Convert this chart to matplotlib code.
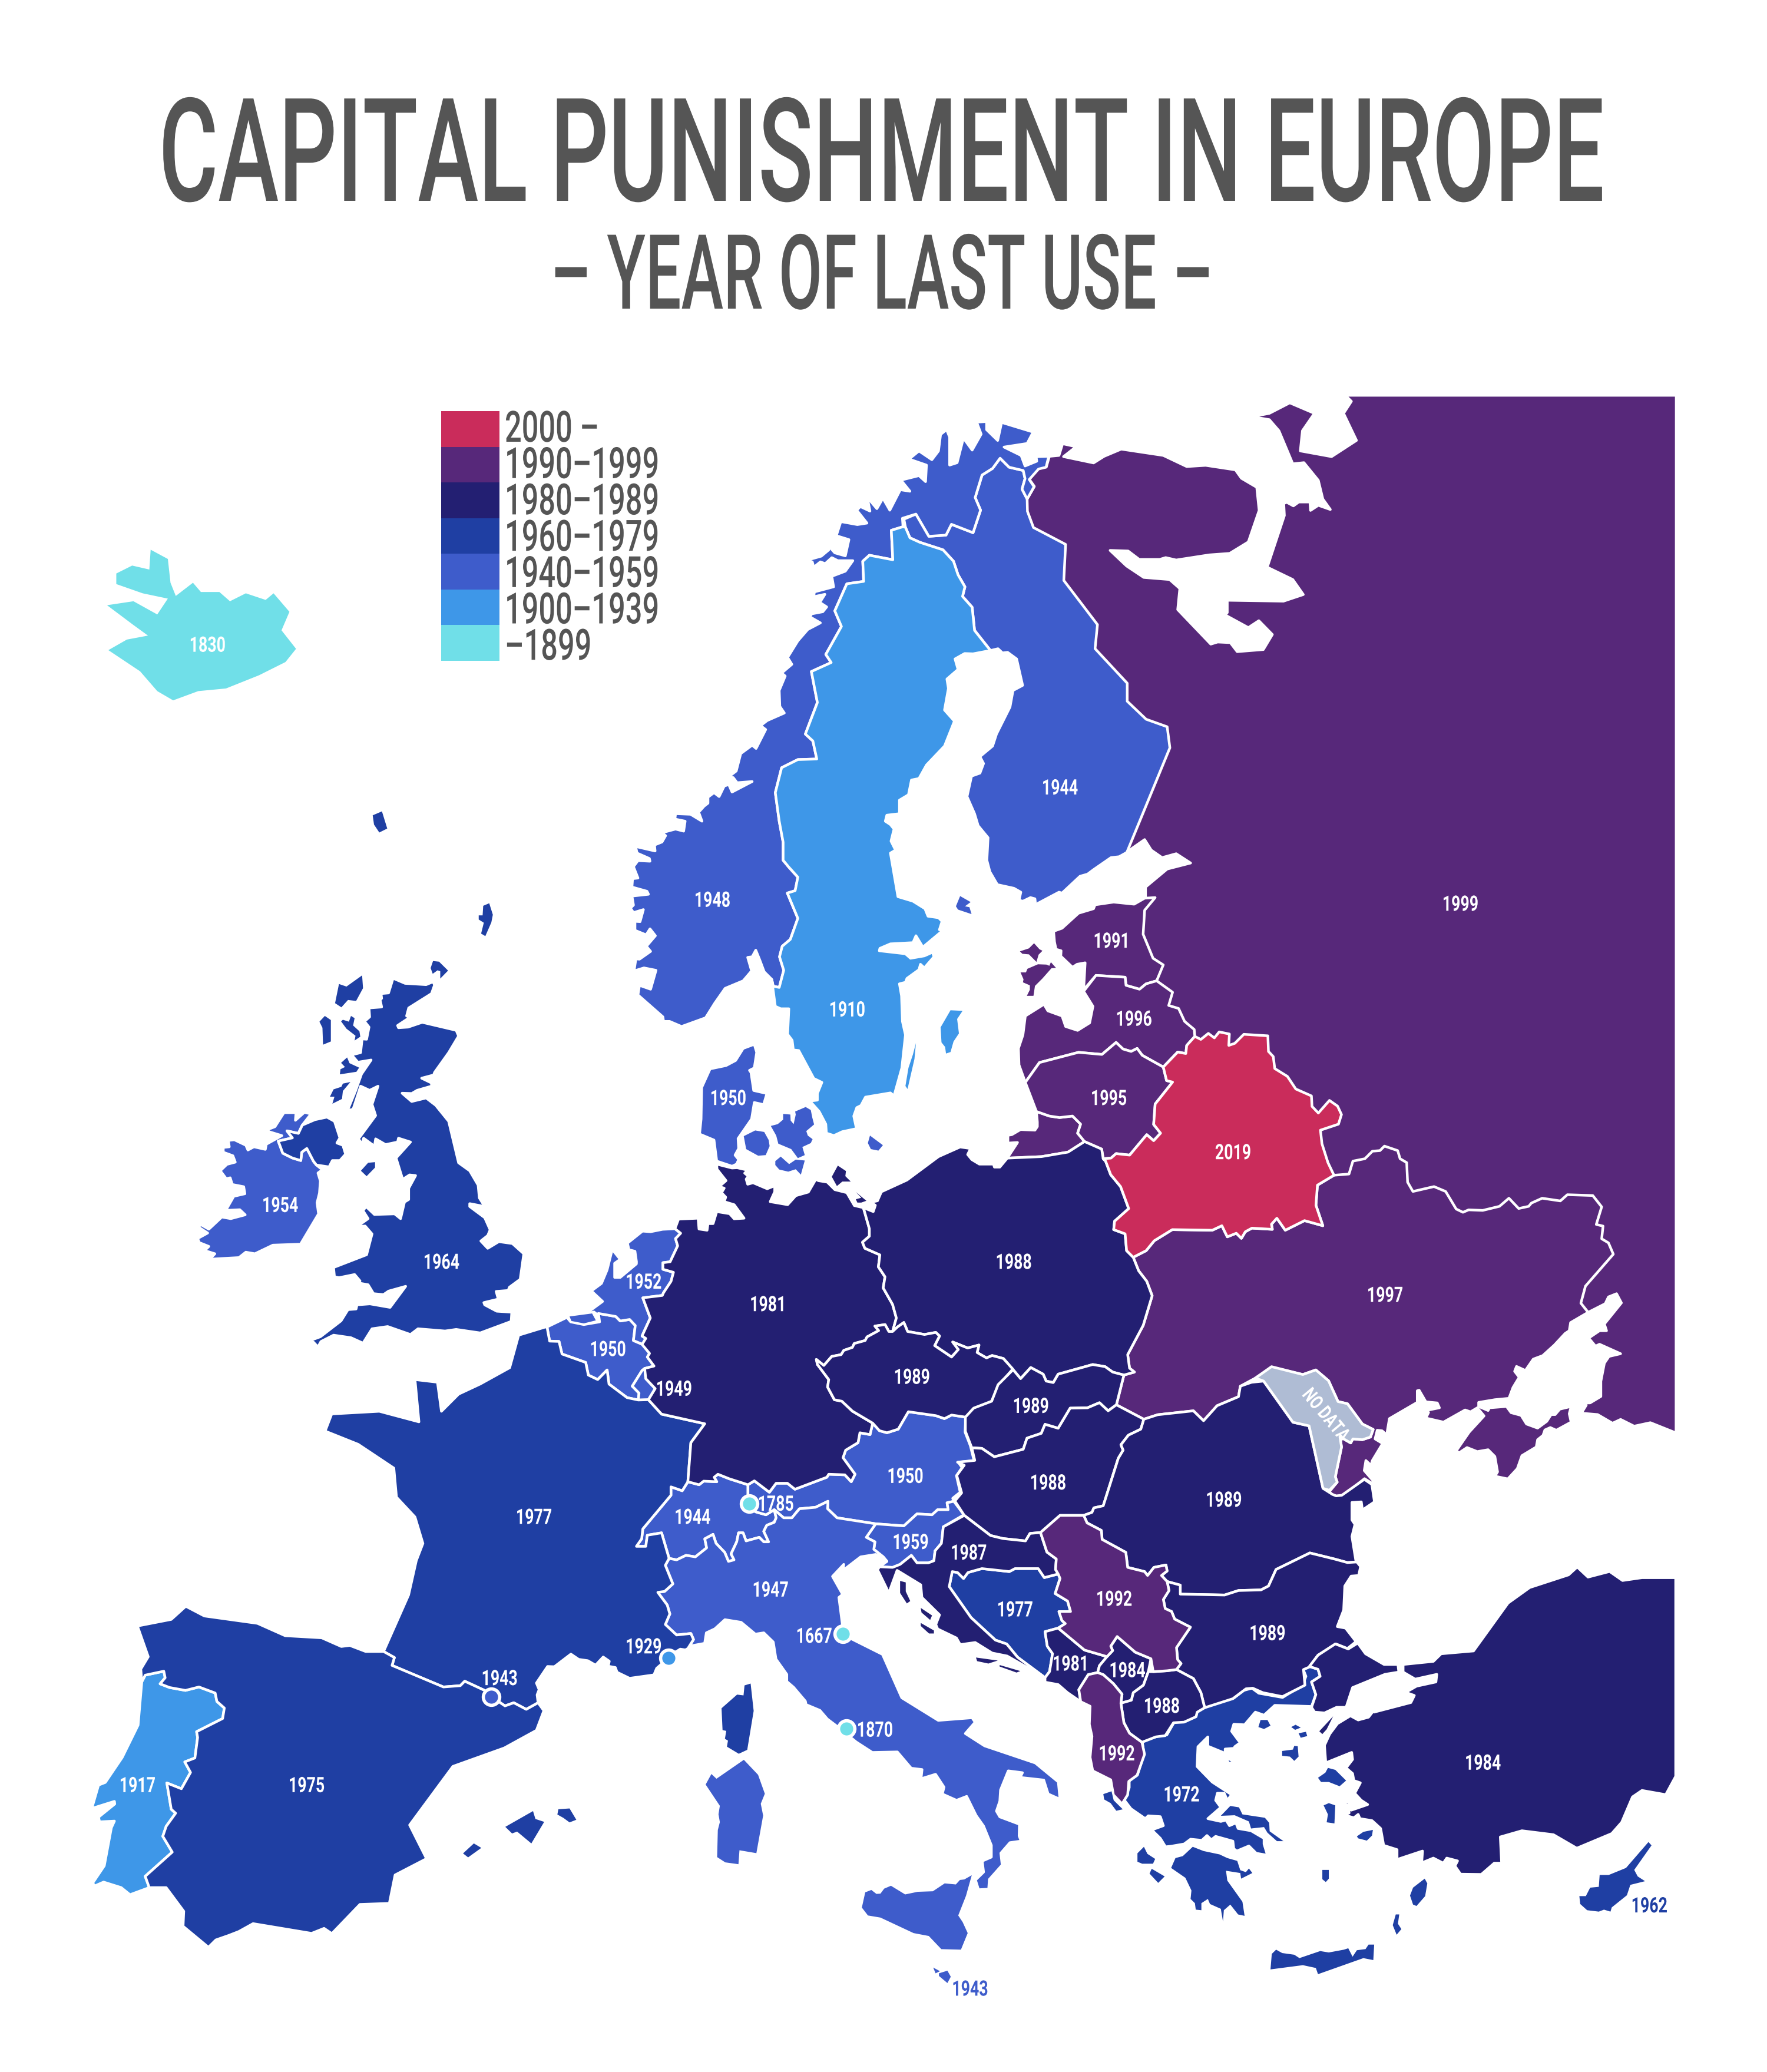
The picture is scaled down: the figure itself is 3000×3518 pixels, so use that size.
import matplotlib
matplotlib.use("Agg")
import matplotlib.pyplot as plt
from matplotlib.patheffects import AbstractPathEffect
from matplotlib.transforms import Affine2D, Bbox

W, H = 3000, 3518
FONT = ["Roboto", "Liberation Sans", "DejaVu Sans"]
GREY = "#555555"

C2000 = "#ca2c5b"; C1990 = "#57287a"; C1980 = "#231f72"; C1960 = "#1f3fa3"
C1940 = "#3e5ccb"; C1900 = "#3e97e8"; C1899 = "#70dfe8"; CNONE = "#afbcd4"

# outlines in crops of it: each helper maps one crop to the sheet
def frame(ox, oy, sx, sy):
    return lambda pts: [(ox + x / sx, oy + y / sy) for x, y in pts]
D = frame(0, 0, 1337 / W, 1568 / H)
Z1 = frame(900, 2100, 1.568, 1.96)
Z2 = frame(1500, 2300, 1.568, 1.96)
Z3 = frame(1650, 660, 1.96, 1.96)
Z4 = frame(1050, 680, 1.96, 1.96)
Z5 = frame(1050, 1400, 1.96, 1.96)
Z6 = frame(1650, 1400, 1.96, 1.96)
Z7 = frame(300, 1500, 1.96, 1.845)
Z8 = frame(130, 2650, 1.742, 2.24)
Z9 = frame(2150, 2000, 2.178, 2.178)
Z10 = frame(1750, 2650, 1.3635, 2.09)
Z11 = frame(1000, 2750, 1.742, 2.24)

RUSSIA = (Z3([(258,225),(290,222),(302,183),(347,193),(305,226),(405,247),(440,225),(497,201),(637,222),(715,259),(778,255),(877,270),(897,298),(948,328),(956,405),(920,510),(858,548),(790,553),(680,570),(645,562),(625,568),(557,568),(520,540),(460,538),(515,590),(572,628),(658,635),(692,665),(685,735),(795,850),(818,843),(860,845),(883,875),(970,868),(1000,818),(955,772),(920,795),(843,753),(850,745),(850,704),(1037,707),(1103,685),(1068,635),(983,594),(1040,422),(1038,382),(1048,378),(1070,390),(1088,377),(1125,377),(1127,405),(1153,388),(1193,402),(1168,367),(1153,305),(1105,246),(1068,250),(1022,140),(990,103),(932,93),(990,82),(1058,47),(1140,82),(1100,140),(1093,207),(1197,226),(1280,172),(1237,82),(1263,42),(1243,22),(2344,22)])
  + Z9([(1515,943),(1420,905),(1360,918),(1310,893),(1280,907),(1225,875),(1165,870),(1183,840),(1165,832),(1197,832),(1237,808),(1237,752),(1250,685),(1267,660),(1310,650),(1232,615),(1217,622),(1192,592),(1232,565),(1258,565),(1250,540),(1313,462),(1295,428),(1265,440),(1253,465),(1190,497),(600,500)])
  + Z6([(800,1000),(500,700),(500,400),(575,285),(578,240),(578,208),(650,148),(728,128),(680,97),(633,110),(597,85),(575,50),(532,80),(517,92)])
  + Z3([(400,1200),(100,500),(185,365),(208,325),(190,300),(222,265),(248,260)]))

FINLAND = (Z6([(517,92),(490,107),(463,110),(405,150),(385,165),(360,172),(300,228),(290,225),(220,262),(213,275),(210,247),(195,243),(170,255),(157,252),(163,225),(140,212),(85,200),(60,157)])
  + Z4([(1226,1530),(1230,1455),(1197,1415),(1185,1375),(1160,1318),(1175,1250),(1203,1240),(1215,1208),(1203,1185),(1245,1150),(1258,1110),(1303,1020),(1313,965),(1345,948),(1325,860),(1295,838),(1278,840),(1263,826),(1238,832),(1185,765),(1177,688),(1145,652),(1153,620),(1130,580),(1115,535),(1080,497),(1003,472),(970,457),(955,422),(950,395),(990,378),(1033,452),(1090,448),(1108,412),(1180,440),(1205,365),(1187,323),(1210,248),(1245,226),(1270,192),(1300,222),(1347,233),(1353,260),(1343,295),(1360,328)])
  + Z3([(185,408),(205,462),(312,518),(306,638),(418,785),(410,865),(517,980),(517,1040),(580,1100),(650,1125),(659,1195),(517,1540)]))

NORWAY = (Z5([(510,515),(485,490),(470,450),(457,418),(445,440),(430,442),(443,487),(415,520),(355,545),(320,595),(290,643),(210,672),(170,655),(150,655),(148,640),(65,567),(70,535),(107,548),(125,485),(85,477),(52,487),(58,447),(70,448),(107,422),(93,405),(123,370),(105,347),(92,367),(55,352),(55,322),(72,323),(83,283),(50,293),(40,278),(50,268),(45,238),(100,232),(95,222),(45,208),(47,180),(65,178),(50,140),(65,120),(105,122),(103,113),(62,95),(57,73),(122,88),(120,68),(145,58),(157,37),(145,27),(190,15),(217,22)])
  + Z4([(222,1400),(188,1393),(190,1375),(240,1377),(278,1400),(267,1370),(285,1350),(298,1340),(298,1320),(318,1305),(335,1318),(352,1283),(367,1278),(378,1303),(445,1268),(395,1272),(382,1255),(367,1252),(392,1233),(407,1175),(445,1147),(458,1158),(490,1095),(473,1082),(495,1065),(552,1040),(537,1018),(535,965),(555,917),(543,907),(577,878),(563,855),(597,800),(630,762),(672,740),(637,720),(643,710),(680,703),(693,687),(670,672),(687,645),(650,653),(652,637),(716,620),(710,585),(755,568),(780,533),(730,533),(710,523),(688,543),(672,537),(650,555),(645,537),(625,532),(675,518),(700,497),(683,487),(705,490),(720,507),(755,517),(767,463),(725,450),(740,403),(795,413),(827,408),(793,365),(805,353),(837,368),(828,322),(860,360),(880,325),(903,365),(938,297),(970,302),(940,265),(1000,250),(1022,270),(1025,215),(967,195),(1000,168),(1043,197),(1065,168),(1072,113),(1092,97),(1102,122),(1102,215),(1127,207),(1148,125),(1177,165),(1207,112),(1192,72),(1225,70),(1225,97),(1262,133),(1275,73),(1380,105),(1360,143),(1283,155),(1340,183),(1353,218),(1392,202),(1390,187),(1422,186),(1432,185),(1423,222),(1398,228),(1367,263),(1383,287),(1360,328),(1343,295),(1353,260),(1347,233),(1300,222),(1270,192),(1245,226),(1210,248),(1187,323),(1205,365),(1180,440),(1108,412),(1090,448),(1033,452),(990,378),(945,392),(947,420),(908,432),(913,530),(835,515),(813,535),(816,602),(760,610),(720,700),(742,752),(690,845),(708,872),(642,902),(662,1005),(622,1110),(647,1133),(660,1193),(597,1195),(543,1222),(522,1305),(535,1400),(548,1470),(548,1530),(567,1553)])
  + Z5([(597,175),(588,220),(562,228),(597,312),(572,382),(545,405),(536,440),(550,485),(535,542),(515,538)]))

SWEDEN = (Z5([(510,515),(522,605),(540,613),(567,613),(563,698),(578,718),(582,750),(600,752),(650,845),(677,858),(662,895),(662,917),(637,920),(668,955),(690,997),(692,1027),(717,1035),(745,1022),(792,1012),(783,970),(793,942),(807,935),(822,907),(905,893),(917,903),(943,810),(955,700),(945,655),(942,570),(935,530),(955,525),(960,512),(1000,483),(1005,465),(1018,477),(1050,440),(1045,425),(1018,437),(972,445),(955,430),(868,420),(870,412),(905,397),(980,393),(990,370),(1013,408),(1080,352),(1068,350),(1077,322),(1065,310),(1030,305),(1020,280),(980,255),(930,240),(905,95),(922,85),(907,55),(917,15),(905,0)])
  + Z4([(888,1400),(893,1380),(935,1375),(935,1330),(965,1312),(975,1263),(1000,1258),(1025,1213),(1085,1150),(1118,1067),(1085,1030),(1098,958),(1093,927),(1130,895),(1120,860),(1152,842),(1180,843),(1238,832),(1185,765),(1177,688),(1145,652),(1153,620),(1130,580),(1115,535),(1080,497),(1003,472),(970,457),(955,422),(947,420),(908,432),(913,530),(835,515),(813,535),(816,602),(760,610),(720,700),(742,752),(690,845),(708,872),(642,902),(662,1005),(622,1110),(647,1133),(660,1193),(597,1195),(543,1222),(522,1305),(535,1400),(548,1470),(548,1530),(567,1553)])
  + Z5([(597,175),(588,220),(562,228),(597,312),(572,382),(545,405),(536,440),(550,485),(535,542),(515,538)]))
GOTLAND = Z5([(1105,618),(1145,620),(1127,647),(1133,695),(1115,722),(1105,757),(1090,762),(1087,740),(1075,725),(1072,675)])
OLAND = Z5([(990,727),(985,780),(962,880),(955,870),(965,810),(980,765)])
ALAND = Z5([(1137,238),(1172,258),(1153,272),(1168,275),(1175,298),(1130,283),(1123,272)])

JUTLAND = Z5([(455,730),(415,745),(390,785),(358,802),(305,813),(277,875),(275,980),(270,1030),(318,1050),(327,1120),(378,1137),(393,1130),(400,1115),(388,1100),(400,1078),(398,1045),(443,980),(452,925),(483,932),(494,895),(450,885),(441,825),(436,818),(452,810),(460,758),(453,735)])
FUNEN = Z5([(417,1037),(455,1018),(485,1023),(500,1050),(503,1070),(490,1100),(465,1102),(425,1080)])
ZEALAND = Z5([(507,1003),(530,997),(548,982),(548,963),(572,965),(573,985),(583,997),(590,965),(588,955),(623,940),(640,950),(645,975),(651,998),(625,1020),(630,1035),(646,1047),(640,1060),(612,1073),(620,1100),(597,1110),(575,1080),(532,1062),(525,1035)])
LOLLAND = Z5([(522,1120),(540,1105),(568,1130),(590,1115),(620,1118),(607,1165),(590,1147),(565,1155),(535,1148),(522,1133)])
BORNHOLM = Z5([(837,1035),(880,1067),(865,1085),(840,1080),(830,1060)])

ESTONIA = Z6([(575,245),(540,265),(472,258),(410,267),(405,280),(355,295),(300,345),(272,355),(275,390),(280,415),(297,420),(296,438),(335,475),(350,465),(377,460),(372,550),(413,502),(510,508),(513,535),(558,548),(580,530),(615,520),(637,467),(603,445),(570,365),(575,285),(610,243)])
SAAREMAA = Z6([(160,422),(190,412),(207,395),(225,415),(235,420),(222,433),(215,457),(190,432),(168,430)])
HIIUMAA = Z6([(162,492),(180,492),(185,480),(220,465),(248,466),(258,470),(263,458),(280,477),(265,478),(235,512),(210,537),(205,570),(183,570),(193,550),(193,535),(170,525),(172,515)])
LATVIA = Z6([(372,555),(403,605),(392,660),(352,685),(312,672),(300,637),(253,620),(240,598),(178,637),(170,700),(155,745),(157,800),(178,858),(225,792),(355,758),(433,765),(480,725),(503,747),(530,755),(550,745),(567,768),(637,807),(685,757),(712,762),(715,735),(742,705),(740,682),(708,655),(688,612),(655,602),(668,558),(615,520),(580,530),(558,548),(513,535),(510,508),(413,502)])
LITHUANIA = Z6([(178,858),(225,792),(355,758),(433,765),(480,725),(503,747),(530,755),(550,745),(567,768),(637,807),(648,852),(668,857),(610,930),(605,998),(628,1027),(605,1052),(582,1032),(525,1100),(480,1095),(463,1110),(437,1112),(432,1080),(375,1055),(352,1027),(362,997),(335,970),(292,975),(258,970),(215,955)])
KALININGRAD = Z6([(215,955),(218,990),(218,1005),(210,1017),(162,1015),(133,1032),(120,1034),(120,1060),(152,1058),(118,1110),(232,1105),(320,1090),(375,1055),(352,1027),(362,997),(335,970),(292,975),(258,970)])
BELARUS = Z6([(437,1112),(463,1110),(480,1095),(525,1100),(582,1032),(605,1052),(628,1027),(605,998),(610,930),(668,857),(648,852),(637,807),(685,757),(712,762),(715,735),(742,705),(762,715),(787,695),(807,710),(823,690),(857,697),(855,735),(875,728),(905,698),(985,703),(987,755),(1003,772),(1008,812),(1050,838),(1078,880),(1130,903),(1132,938),(1153,960),(1190,918),(1217,937),(1230,965),(1220,997),(1160,1017),(1165,1062),(1185,1125),(1205,1167),(1150,1200),(1145,1267),(1168,1335),(1107,1318),(1043,1350),(1015,1310),(997,1330),(1000,1347),(932,1343),(910,1355),(897,1377),(880,1360),(850,1372),(832,1335),(800,1350),(667,1348),(607,1385),(580,1418),(537,1440),(515,1418),(510,1362),(472,1348),(475,1320),(522,1278),(495,1205),(462,1165),(445,1120)])

UKRAINE = (Z6([(537,1440),(580,1418),(607,1385),(667,1348),(800,1350),(832,1335),(850,1372),(880,1360),(897,1377),(910,1355),(932,1343),(1000,1347),(997,1330),(1015,1310),(1043,1350),(1107,1318),(1168,1335),(1145,1267),(1150,1200),(1205,1167),(1255,1163),(1268,1120),(1308,1112),(1333,1087),(1358,1085),(1373,1070),(1417,1085),(1425,1112),(1447,1125),(1450,1190)])
  + Z9([(542,50),(620,32),(663,50),(702,115),(727,127),(748,118),(800,120),(862,105),(897,75),(933,113),(970,105),(980,93),(1020,75),(1087,85),(1113,62),(1207,65),(1240,107),(1220,172),(1245,178),(1240,225),(1265,240),(1283,282),(1180,400),(1163,463),(1190,497),(1125,535),(1120,565),(1105,575),(1065,618),(1022,657),(987,670),(958,712),(925,697),(918,715),(935,737),(912,775),(897,815),(845,820),(785,830),(785,845),(820,860),(825,850),(888,845),(905,868),(942,878),(962,910),(1003,925),(1037,900),(1053,875),(1068,875),(1085,855),(1127,845),(1120,872),(1127,903),(1072,933),(1050,923),(1030,932),(1023,952),(1003,968),(998,995),(945,1027),(928,1075),(893,1113),(845,1103),(855,1087),(845,1030),(820,1005),(780,1012),(742,997),(712,1017),(703,1008),(750,940),(805,880),(780,850),(755,865),(735,858),(655,903),(590,888),(600,867),(565,865),(640,850),(632,832),(590,828),(565,785),(558,787),(558,830),(455,890),(445,950),(428,935),(410,933),(402,965),(430,982),(392,1045),(387,1063),(368,1045),(362,1082),(395,1120),(392,1130),(363,1112),(280,1178),(250,1180),(233,1160),(262,1125),(255,1105),(278,995),(272,957),(312,980),(320,965),(355,968),(385,958),(395,930),(355,910),(300,835),(265,827),(230,750),(183,710),(135,727),(20,700)])
  + Z2([(990,78),(950,105),(945,140),(888,170),(852,220),(825,187),(730,200),(693,215),(620,167),(640,68),(668,58),(655,45),(650,0)])
  + D([(865,1003)]) + Z6([(600,1568),(582,1520),(555,1485)]))
MOLDOVA = (Z2([(990,78),(1033,40)])
  + Z9([(135,727),(183,710),(230,750),(265,827),(300,835),(355,910),(395,930),(385,958),(355,968),(320,965),(312,980),(272,957),(278,995),(255,1105),(262,1125),(233,1155)])
  + Z2([(1170,445),(1133,237),(1090,225),(1012,88)]))

ROMANIA = Z2([(693,215),(730,200),(825,187),(852,220),(888,170),(945,140),(950,105),(980,92),(1012,88),(1090,225),(1133,237),(1170,445),(1195,465),(1205,470),(1220,468),(1280,415),(1300,432),(1307,490),(1275,517),(1272,490),(1247,492),(1247,550),(1255,565),(1247,605),(1258,690),(1235,692),(1200,680),(1135,660),(1045,715),(1025,770),(1005,783),(945,785),(908,800),(790,797),(790,767),(755,755),(740,735),(755,720),(752,700),(720,708),(703,735),(695,722),(650,708),(645,658),(582,615),(580,585),(542,560),(533,535),(555,525),(560,510),(585,503),(625,345),(638,318),(632,300),(652,268),(685,248)])
HUNGARY = Z2([(620,167),(693,215),(685,248),(652,268),(632,300),(638,318),(625,345),(585,503),(560,510),(555,525),(533,535),(470,535),(440,568),(418,592),(390,595),(378,620),(318,612),(285,602),(215,535),(190,487),(208,460),(195,402),(215,368),(197,358),(243,352),(235,310),(262,312),(295,340),(372,315),(382,278),(420,262),(430,232),(465,245),(497,178),(543,177),(575,160),(598,187)])
SLOVAKIA = Z2([(345,50),(365,80),(392,43),(425,65),(433,88),(452,93),(465,65),(557,33),(590,40),(610,58),(640,68),(620,167),(598,187),(575,160),(543,177),(497,178),(465,245),(430,232),(420,262),(382,278),(372,315),(295,340),(262,312),(235,310),(218,255),(218,208),(240,178),(288,155),(305,100)])
CZECHIA = Z1([(965,315),(978,300),(995,285),(1005,315),(1050,325),(1080,318),(1090,330),(1077,362),(1122,400),(1140,375),(1125,350),(1165,370),(1195,360),(1190,385),(1215,403),(1230,395),(1260,405),(1285,440),(1250,490),(1228,548),(1185,570),(1160,600),(1122,593),(1103,605),(1080,595),(1007,582),(980,640),(950,652),(930,645),(912,620),(858,580),(830,547),(810,542),(792,500),(795,475),(765,425),(762,408),(782,428),(803,398),(828,392),(835,378),(858,368),(863,355),(892,345),(897,333),(928,312),(918,297),(945,292),(955,315)])

GERMANY = (Z5([(815,1275),(785,1268),(760,1225),(720,1215),(695,1190),(665,1185),(657,1180),(632,1223),(590,1235),(563,1265),(505,1255),(520,1222),(520,1202),(495,1212),(448,1192),(430,1197),(425,1180),(432,1170),(420,1160),(430,1150),(395,1142),(378,1143),(327,1130),(328,1147),(358,1185),(335,1205),(352,1210),(343,1225),(357,1240),(352,1255),(385,1265),(418,1310),(385,1312),(370,1295),(327,1288),(315,1328),(298,1328),(295,1350),(268,1346),(265,1310),(200,1313),(188,1345),(207,1360),(190,1378),(197,1402),(172,1455),(148,1458),(148,1480),(183,1490),(175,1520),(150,1558)])
  + Z1([(352,195),(300,203),(320,270),(298,330),(308,338),(298,358),(318,388),(312,400),(330,430),(305,438),(308,472),(333,505),(315,542),(350,590),(465,622),(428,685),(420,815),(450,825),(462,813),(497,815),(490,800),(500,790),(530,805),(580,825),(597,812),(637,850),(655,820),(685,820),(705,840),(790,800),(795,790),(838,792),(855,815),(865,790),(833,735),(840,710),(873,685),(878,652),(905,658),(912,620),(858,580),(830,547),(810,542),(792,500),(795,475),(765,425),(762,408),(782,428),(803,398),(828,392),(835,378),(858,368),(863,355),(892,345),(897,333),(928,312),(918,297),(945,292),(955,315),(965,315),(975,270),(965,225),(940,170)])
  + Z5([(887,1505),(865,1472),(870,1432),(820,1410),(812,1390),(835,1370),(835,1345)]))
RUGEN = Z5([(710,1172),(730,1135),(757,1153),(755,1170),(773,1188),(745,1188),(727,1203)])
USEDOM = Z5([(790,1223),(825,1252),(808,1258),(795,1258),(790,1247),(808,1242)])

POLAND = (Z5([(815,1275),(848,1288),(855,1267),(840,1257),(862,1252),(875,1222),(960,1183),(1065,1105),(1137,1073),(1172,1078),(1162,1098),(1176,1115)])
  + Z6([(25,1130),(72,1130),(75,1140),(93,1140),(118,1110),(232,1105),(320,1090),(375,1055),(432,1080),(437,1112),(445,1120),(462,1165),(495,1205),(522,1278),(475,1320),(472,1348),(510,1362),(515,1418),(537,1440),(555,1485),(582,1520),(600,1568)])
  + D([(865,1003)])
  + Z2([(650,0),(655,45),(668,58),(640,68),(610,58),(590,40),(557,33),(465,65),(452,93),(433,88),(425,65),(392,43),(365,80),(345,50)])
  + Z1([(1260,405),(1230,395),(1215,403),(1190,385),(1195,360),(1165,370),(1125,350),(1140,375),(1122,400),(1077,362),(1090,330),(1080,318),(1050,325),(1005,315),(995,285),(978,300),(965,315),(975,270),(965,225),(940,170)])
  + Z5([(887,1505),(865,1472),(870,1432),(820,1410),(812,1390),(835,1370),(835,1345)]))

NETHERLANDS = (Z5([(188,1345),(147,1347),(107,1355),(80,1353),(30,1393),(35,1415),(55,1420),(60,1455)])
  + Z1([(283,90),(240,135),(225,135),(225,88),(240,75),(222,47),(218,45),(205,110),(190,155),(163,180),(193,215),(157,248),(118,238),(155,255),(170,250),(178,258),(182,255),(228,265),(240,280),(265,275),(280,295),(275,345),(300,358),(308,338),(298,330),(320,270),(300,203),(352,195)])
  + Z5([(150,1558),(175,1520),(183,1490),(148,1480),(148,1458),(172,1455),(197,1402),(190,1378),(207,1360)]))
ZEELAND = Z1([(105,265),(165,255),(175,278),(143,288),(110,280)])
BELGIUM = Z1([(45,300),(98,268),(108,283),(143,292),(185,283),(182,255),(228,265),(240,280),(265,275),(280,295),(275,345),(303,360),(318,388),(312,400),(330,430),(305,438),(298,445),(272,497),(290,520),(288,543),(258,535),(210,490),(205,443),(180,475),(155,460),(148,418),(85,390),(77,348),(52,347)])
LUXEMBOURG = Z1([(298,445),(272,497),(290,520),(288,543),(315,542),(333,505),(308,472),(305,438)])

FRANCE = (Z7([(1225,1390),(1138,1415),(1108,1517),(1010,1568)])
  + D([(347,1055),(334,1068),(331,1046),(314,1044),(317,1076),(287,1068),(251,1070),(246,1083),(271,1093),(298,1111),(300,1133),(314,1148),(320,1168),(315,1181)])
  + Z8([(982,130),(908,345),(940,368),(933,398),(1085,480),(1135,475),(1148,458),(1205,492),(1227,517),(1267,552),(1293,540),(1330,565),(1365,540),(1362,510),(1368,490),(1360,465),(1393,402),(1413,403),(1462,355),(1485,375),(1512,380),(1535,397)])
  + Z11([(42,142),(60,158),(57,177),(78,182),(83,200),(120,223),(192,210),(200,185),(218,165),(225,140),(260,120),(270,112),(285,115)])
  + Z1([(420,1370),(435,1340),(428,1320),(390,1325),(360,1290),(372,1255),(365,1225),(340,1183),(358,1180),(380,1155),(360,1093),(370,1070),(350,985),(312,993),(308,1030),(283,1030),(297,1005),(300,972),(375,860),(375,832),(405,845),(420,815),(428,685),(465,622),(350,590),(315,542),(288,543),(258,535),(210,490),(205,443),(180,475),(155,460),(148,418),(85,390),(77,348),(52,347),(45,300)]))
CORSICA = Z11([(478,243),(487,347),(468,495),(443,510),(408,483),(411,460),(402,453),(406,423),(395,420),(392,337),(438,285),(457,288),(460,250)])

SPAIN = Z8([(908,345),(855,345),(808,322),(783,326),(725,293),(617,285),(535,238),(378,210),(323,173),(280,223),(180,248),(212,365),(190,412),(193,460),(203,435),(258,420),(262,445),(247,468),(275,482),(322,493),(362,480),(410,503),(415,535),(437,560),(432,600),(355,650),(358,672),(350,750),(320,765),(337,805),(310,867),(267,845),(280,945),(293,960),(265,1010),(255,1048),(283,1108),(203,1200),(215,1243),(265,1243),(317,1333),(315,1390),(390,1470),(412,1442),(450,1425),(480,1410),(522,1380),(695,1417),(732,1398),(755,1418),(838,1307),(925,1303),(942,1195),(1035,1133),(985,1005),(1113,782),(1265,712),(1360,645),(1382,570),(1365,540),(1330,565),(1293,540),(1267,552),(1227,517),(1205,492),(1148,458),(1135,475),(1085,480),(933,398),(940,368)])
PORTUGAL = Z8([(193,460),(203,435),(258,420),(262,445),(247,468),(275,482),(322,493),(362,480),(410,503),(415,535),(437,560),(432,600),(355,650),(358,672),(350,750),(320,765),(337,805),(310,867),(267,845),(280,945),(293,960),(265,1010),(255,1048),(283,1108),(203,1200),(215,1243),(158,1270),(132,1243),(80,1222),(53,1237),(48,1225),(82,1160),(103,1015),(112,990),(68,993),(65,975),(113,925),(112,915),(45,942),(65,853),(85,843),(135,748),(182,625)])
MALLORCA = Z8([(1268,1012),(1350,952),(1357,982),(1383,993),(1345,1075),(1303,1030),(1288,1037)])
MENORCA = Z8([(1425,945),(1458,942),(1478,985),(1458,995),(1440,978),(1422,965)])
IBIZA = Z8([(1143,1113),(1175,1075),(1197,1092),(1158,1128)])

SWITZERLAND = Z1([(420,815),(450,825),(462,813),(497,815),(490,800),(500,790),(530,805),(580,825),(580,858),(600,915),(628,925),(650,908),(655,935),(650,950),(630,960),(622,980),(635,1015),(622,1015),(610,1000),(575,1012),(567,985),(555,985),(550,1015),(535,1055),(543,1075),(528,1080),(518,1050),(495,1020),(487,990),(465,1005),(470,1035),(440,1065),(415,1060),(390,1075),(370,1070),(350,985),(312,993),(308,1030),(283,1030),(297,1005),(300,972),(375,860),(375,832),(405,845)])
AUSTRIA = Z1([(650,908),(675,935),(697,935),(717,905),(760,900),(793,880),(792,905),(817,935),(920,955),(995,962),(1030,922),(1070,925),(1085,908),(1113,908),(1110,885),(1128,880),(1125,870),(1145,850),(1135,795),(1150,768),(1140,750),(1182,745),(1172,695),(1158,650),(1160,600),(1122,593),(1103,605),(1080,595),(1007,582),(980,640),(950,652),(930,645),(912,620),(905,658),(878,652),(873,685),(840,710),(833,735),(865,790),(855,815),(838,792),(795,790),(790,800),(705,840),(685,820),(655,820),(637,850),(597,812),(580,825),(580,858),(600,915),(628,925)])
SLOVENIA = Z1([(920,955),(995,962),(1030,922),(1070,925),(1085,908),(1113,908),(1110,885),(1128,880),(1155,925),(1100,965),(1095,1020),(1078,1045),(1075,1078),(1060,1085),(1030,1085),(1015,1060),(985,1090),(965,1100),(930,1098),(950,1080),(940,1065),(915,1040),(918,1015),(895,1000)])

ITALY = (Z1([(370,1070),(390,1075),(415,1060),(440,1065),(470,1035),(465,1005),(487,990),(495,1020),(518,1050),(528,1080),(543,1075),(535,1055),(550,1015),(555,985),(567,985),(575,1012),(610,1000),(622,1015),(635,1015),(622,980),(630,960),(650,950),(655,935),(650,908),(675,935),(697,935),(717,905),(760,900),(793,880),(792,905),(817,935),(920,955),(895,1000),(918,1015),(915,1040),(940,1065),(950,1080),(920,1057),(880,1065),(833,1110),(835,1090),(805,1130),(832,1190),(822,1200),(835,1325)])
  + Z11([(868,132),(925,297),(1033,383),(1133,373),(1142,390),(1113,433),(1170,480),(1320,545),(1388,617),(1393,683),(1358,663),(1345,610),(1275,600),(1282,582),(1240,575),(1217,648),(1215,690),(1205,728),(1215,750),(1273,778),(1272,822),(1278,842),(1245,848),(1218,888),(1222,933),(1184,988),(1182,1025),(1152,1027),(1143,990),(1167,960),(1163,918),(1190,903),(1190,858),(1167,785),(1145,745),(1117,672),(1087,687),(1045,663),(1050,637),(1025,588),(982,605),(985,570),(953,565),(912,503),(838,505),(790,465),(740,412),(705,378),(683,345),(642,323),(640,310),(605,257),(585,235),(585,208),(553,150),(545,85),(517,50),(492,55),(450,10),(402,0),(372,35),(347,50),(342,90),(300,100)])
  + Z1([(420,1370),(435,1340),(428,1320),(390,1325),(360,1290),(372,1255),(365,1225),(340,1183),(358,1180),(380,1155),(360,1093)]))
SARDINIA = Z11([(458,533),(500,590),(520,662),(508,700),(515,745),(495,888),(445,877),(442,930),(403,923),(379,903),(381,800),(387,770),(383,740),(387,708),(345,627),(362,587),(377,605)])
SICILY = Z11([(817,1037),(835,1028),(850,1043),(862,1042),(873,1023),(893,1012),(935,1045),(972,1035),(1017,1033),(1052,1003),(1085,1007),(1097,990),(1110,988),(1132,972),(1115,1050),(1092,1125),(1105,1150),(1120,1192),(1100,1255),(1042,1253),(1005,1203),(960,1192),(862,1133),(825,1125),(807,1095)])
MALTA_A = Z11([(1018,1323),(1038,1337),(1025,1345)])
MALTA_B = Z11([(1035,1345),(1060,1335),(1070,1358),(1060,1382),(1035,1355)])

CROATIA = (Z2([(215,535),(285,602),(318,612),(378,620),(390,595),(418,592),(435,657),(460,680),(458,715),(465,730),(428,742),(412,712),(350,712),(335,722),(262,712),(225,725),(213,745),(197,725),(183,722),(175,772),(233,875),(298,950),(328,963),(357,1007),(430,1075)])
  + Z1([(1270,1395),(1230,1385),(1185,1350),(1145,1357),(1135,1335),(1085,1305),(1080,1290),(1090,1258),(1043,1200),(1040,1158),(977,1110),(955,1185),(925,1108),(930,1098),(965,1100),(985,1090),(1015,1060),(1030,1085),(1060,1085),(1075,1078),(1078,1045),(1095,1020),(1100,965)]))
KRK = Z1([(985,1145),(1000,1150),(1000,1180),(1012,1212),(1003,1220),(985,1185)])
RAB = Z1([(1040,1235),(1070,1260),(1065,1275),(1042,1250)])
PAG = Z1([(1040,1285),(1075,1310),(1075,1320),(1062,1320),(1040,1295)])
BRAC = Z1([(1187,1400),(1245,1410),(1220,1420),(1190,1412)])
KORCULA = Z1([(1250,1425),(1305,1445),(1295,1450),(1250,1430)])
BOSNIA = Z2([(183,722),(197,725),(213,745),(225,725),(262,712),(335,722),(350,712),(412,712),(428,742),(465,730),(470,745),(457,795),(490,820),(498,855),(467,855),(475,885),(484,895),(465,910),(430,922),(436,970),(450,995),(442,1055),(430,1075),(357,1007),(328,963),(298,950),(233,875),(175,772)])
SERBIA = Z2([(418,592),(470,535),(533,535),(542,560),(580,585),(582,615),(645,658),(650,708),(695,722),(703,735),(720,708),(752,700),(755,720),(740,735),(755,755),(760,785),(745,815),(750,845),(767,855),(775,880),(817,907),(780,975),(783,1015),(792,1028),(780,1048),(755,1052),(718,1055),(712,1012),(670,990),(622,938),(605,970),(610,985),(595,1005),(535,983),(465,910),(484,895),(475,885),(467,855),(498,855),(490,820),(457,795),(470,745),(465,730),(458,715),(460,680),(435,657)])
KOSOVO = Z2([(622,938),(670,990),(712,1012),(705,1055),(692,1100),(665,1125),(660,1150),(632,1160),(635,1130),(612,1095),(585,1065),(570,1058),(575,1035),(595,1005),(610,985),(605,970)])
MONTENEGRO = Z2([(430,922),(465,910),(535,983),(595,1005),(575,1035),(570,1058),(545,1065),(520,1115),(525,1155),(490,1125),(465,1098),(430,1090),(430,1075),(442,1055),(450,995),(436,970)])
ALBANIA = Z2([(545,1065),(570,1058),(585,1065),(612,1095),(635,1130),(632,1160),(640,1225),(655,1260),(688,1290),(695,1330),(675,1400),(653,1420),(650,1465),(635,1495),(612,1465),(605,1415),(557,1385),(550,1340),(555,1270),(548,1230),(550,1170),(525,1155),(520,1115)])
MACEDONIA = Z2([(632,1160),(660,1150),(665,1125),(692,1100),(705,1055),(718,1055),(755,1052),(780,1048),(825,1078),(845,1125),(855,1175),(835,1190),(832,1205),(800,1223),(772,1225),(750,1268),(725,1272),(688,1290),(655,1260),(640,1225)])
BULGARIA = Z2([(755,755),(790,767),(790,797),(908,800),(945,785),(1005,783),(1025,770),(1045,715),(1135,660),(1200,680),(1235,692),(1260,690),(1270,705),(1265,735),(1245,737),(1228,770),(1225,850),(1208,905),(1230,910),(1258,955),(1235,978),(1205,963),(1157,1000),(1133,1040),(1118,1048),(1122,1100),(1062,1138),(1010,1125),(983,1110),(965,1112),(930,1145),(855,1175),(845,1125),(825,1078),(780,1048),(792,1028),(783,1015),(780,975),(817,907),(775,880),(767,855),(750,845),(745,815),(760,785)])

THRACE = Z10([(705,295),(735,313),(757,292),(775,330),(818,368),(850,368),(852,395),(820,403),(745,450),(730,520),(708,520),(680,540),(657,537),(650,520),(660,475),(650,430),(670,410),(665,385),(645,375),(665,335)])
GALLIPOLI = Z10([(668,605),(700,552),(685,598),(675,615)])
ANATOLIA = Z10([(862,368),(932,357),(950,330),(1025,320),(1105,150),(1155,95),(1245,50),(1265,22),(1290,58),(1340,38),(1370,70),(1415,60),(1493,60),(1493,765),(1470,830),(1415,815),(1393,838),(1368,928),(1345,968),(1264,1020),(1210,972),(1137,958),(1087,980),(1090,1073),(1073,1073),(1043,1113),(995,1112),(982,1083),(988,1065),(963,1055),(955,1073),(932,1055),(905,1072),(907,1030),(848,1060),(848,1025),(817,1010),(810,950),(790,922),(762,915),(758,900),(748,912),(725,902),(737,895),(735,870),(722,855),(735,855),(742,885),(780,865),(765,850),(750,825),(763,788),(748,780),(745,755),(730,735),(745,705),(743,680),(683,717),(680,655),(692,615),(710,578),(740,550),(758,565),(782,555),(792,535),(788,515),(795,537),(880,503),(888,478),(868,467),(893,445),(938,430),(940,403),(890,420),(862,395)])

GREECE = Z10([(258,640),(295,622),(315,618),(332,573),(358,570),(383,550),(385,530),(430,505),(470,487),(493,460),(512,452),(528,470),(583,485),(630,440),(637,410),(630,383),(645,375),(665,385),(670,410),(650,430),(660,475),(650,517),(565,513),(540,548),(520,537),(495,582),(470,580),(465,605),(482,640),(520,660),(490,640),(472,660),(500,695),(475,665),(450,668),(450,695),(475,717),(458,718),(445,680),(410,658),(410,625),(387,660),(385,730),(420,785),(465,830),(455,850),(448,825),(432,825),(428,850),(440,875),(410,915),(440,925),(452,920),(460,940),(475,930),(480,950),(510,958),(540,985),(540,1005),(548,1045),(522,1038),(505,1012),(477,1030),(470,1022),(468,995),(428,978),(418,990),(408,975),(396,992),(370,988),(355,1005),(325,1013),(312,1015),(300,985),(280,955),(307,940),(300,908),(272,905),(265,915),(232,880),(217,850),(228,805),(228,780),(247,760),(262,685)])
PELOPONNESE = Z10([(375,1015),(400,1030),(437,1042),(455,1055),(478,1065),(485,1098),(498,1105),(505,1092),(513,1108),(487,1128),(485,1108),(452,1100),(455,1135),(490,1210),(495,1260),(480,1255),(462,1220),(447,1240),(445,1280),(440,1235),(415,1218),(410,1200),(395,1215),(395,1240),(382,1238),(380,1215),(370,1200),(372,1170),(358,1125),(325,1090),(335,1055),(352,1048)])
EUBOEA = Z10([(440,905),(462,870),(482,875),(490,900),(542,912),(552,930),(553,960),(585,995),(570,995),(548,965),(540,945),(510,950),(505,925),(472,903)])
CRETE = Z10([(568,1380),(582,1392),(610,1398),(622,1410),(670,1385),(690,1390),(725,1380),(735,1375),(745,1405),(755,1382),(775,1378),(782,1362),(795,1362),(793,1417),(770,1410),(665,1467),(660,1445),(630,1435),(555,1450),(558,1395)])
LESBOS = Z10([(665,770),(682,752),(688,735),(705,742),(730,780),(715,800),(690,785),(672,785)])
CHIOS = Z10([(678,868),(690,860),(705,868),(703,932),(685,928),(688,900)])
SAMOS = Z10([(755,978),(770,962),(792,955),(790,975),(778,993),(758,985)])
RHODES = Z10([(885,1160),(912,1128),(918,1145),(913,1190),(893,1225),(885,1220),(878,1188)])
KARPATHOS = Z10([(845,1255),(853,1255),(850,1288),(858,1307),(847,1327),(838,1293)])
NAXOS = Z10([(675,1097),(690,1097),(690,1128),(683,1140),(675,1130)])
CORFU = Z10([(168,828),(187,818),(192,850),(213,882),(198,887),(185,860),(170,847)])
KEFALONIA = Z10([(247,1038),(262,1015),(270,1040),(288,1058),(283,1075),(258,1075),(247,1068)])
ZAKYNTHOS = Z10([(280,1093),(310,1120),(295,1143),(275,1110)])
THASOS = Z10([(532,565),(548,565),(555,585),(540,597),(527,590)])
SAMOTHRACE = Z10([(603,590),(613,582),(625,592),(612,600)])
IMBROS = Z10([(620,612),(637,607),(640,622),(625,628)])
LEMNOS = Z10([(582,675),(607,670),(610,657),(618,658),(620,695),(610,710),(600,695),(582,692)])
CYPRUS = Z10([(1270,1190),(1285,1190),(1295,1160),(1315,1157),(1317,1115),(1338,1115),(1378,1090),(1430,998),(1437,1010),(1397,1097),(1405,1120),(1422,1137),(1388,1150),(1380,1187),(1345,1230),(1342,1245),(1327,1238),(1315,1245),(1288,1240),(1272,1218)])

BRITAIN = Z7([(720,297),(760,313),(830,317),(853,308),(858,318),(848,345),(772,390),(765,415),(775,420),(735,445),(738,452),(770,450),(817,435),(930,460),(938,478),(905,530),(858,592),(855,600),(815,610),(848,625),(848,635),(800,648),(782,658),(750,657),(782,683),(830,672),(862,695),(905,745),(938,875),(975,900),(1003,945),(1007,985),(1025,1012),(975,1003),(975,1012),(1025,1047),(1043,1085),(1035,1103),(1012,1120),(1035,1143),(1072,1122),(1117,1128),(1155,1160),(1143,1240),(1107,1265),(1103,1275),(1063,1278),(1070,1302),(1022,1313),(1025,1320),(1065,1340),(1115,1343),(1113,1372),(1010,1408),(930,1397),(893,1402),(803,1395),(778,1413),(702,1388),(650,1395),(620,1440),(580,1423),(522,1415),(480,1435),(470,1452),(455,1437),(440,1433),(478,1420),(547,1370),(570,1335),(597,1333),(600,1320),(643,1317),(710,1328),(762,1262),(705,1277),(688,1288),(655,1285),(637,1257),(607,1252),(610,1245),(592,1225),(540,1235),(525,1232),(522,1203),(632,1163),(650,1098),(627,1073),(600,1075),(637,1050),(620,1025),(630,1012),(658,1037),(725,1035),(745,1050),(758,998),(772,990),(772,955),(795,915),(775,913),(752,927),(730,860),(778,810),(738,798),(735,810),(695,818),(662,800),(658,823),(622,798),(617,817),(605,800),(662,727),(650,692),(670,635),(642,648),(612,635),(587,707),(568,712),(595,650),(615,597),(647,553),(603,560),(582,537),(612,530),(617,487),(632,488),(640,450),(625,432),(642,418),(640,390),(682,387),(677,365),(682,360),(680,345),(705,343)])
NI = Z7([(353,845),(338,807),(385,797),(367,775),(405,783),(418,757),(460,740),(500,732),(525,745),(543,797),(533,813),(553,820),(562,848),(543,868),(518,868),(507,888),(465,882),(455,870),(433,830),(416,842),(413,868),(385,860)])
IRELAND = Z7([(357,718),(397,718),(395,742),(425,717),(447,722),(418,757),(405,783),(367,775),(385,797),(338,807),(353,845),(385,860),(413,868),(416,842),(433,830),(455,870),(465,882),(485,897),(470,907),(478,932),(475,970),(467,1000),(472,1035),(412,1130),(320,1133),(260,1160),(230,1155),(207,1172),(110,1177),(127,1160),(93,1150),(107,1137),(75,1125),(70,1112),(103,1095),(75,1078),(77,1067),(107,1083),(150,1045),(180,1050),(228,1038),(210,1022),(145,1025),(167,1018),(190,980),(227,972),(223,950),(185,943),(178,922),(165,925),(145,900),(167,880),(195,873),(187,853),(155,842),(155,827),(175,825),(172,805),(192,803),(230,820),(237,835),(257,825),(295,833),(298,817),(350,790),(305,777),(305,770),(327,762)])
LEWIS = Z7([(527,375),(540,315),(565,323),(617,288),(620,328),(597,368),(570,365),(548,388)])
UIST = Z7([(475,433),(493,415),(513,428),(513,495),(487,505),(485,452)])
SKYE = Z7([(547,432),(553,427),(573,433),(580,415),(592,422),(587,445),(608,463),(611,480),(592,492),(595,477),(565,455)])
MULL = Z7([(547,562),(567,545),(575,563),(607,577),(598,590),(543,598),(545,582),(560,575)])
ISLAY = Z7([(510,668),(522,645),(548,637),(553,627),(578,622),(553,650),(550,675),(518,690),(525,668)])
MAN = Z7([(613,900),(637,875),(660,873),(660,890),(632,917)])
ORKNEY = Z7([(845,265),(853,243),(873,245),(903,273),(877,298),(877,275),(868,272),(852,283)])
SHETLAND = Z7([(1005,100),(1018,100),(1020,70),(1040,62),(1052,98),(1047,122),(1027,165),(1013,157),(1022,123),(1005,113)])
FAROE = D([(282,617),(289,614),(293,627),(287,630),(283,624)])
ICELAND = D([(88,434),(100,428),(113,431),(114,416),(127,423),(129,441),(133,451),(146,441),(152,448),(166,448),(174,455),(186,449),(201,454),(207,449),(219,463),(213,477),(224,491),(216,501),(196,511),(171,521),(150,523),(131,530),(119,523),(106,508),(82,492),(96,484),(112,481),(101,473),(81,458),(101,455),(119,465),(127,453),(108,449),(88,442)])

# colour, outlines
COUNTRIES = [
    (C1990, [RUSSIA, KALININGRAD, UKRAINE, ESTONIA, LATVIA, LITHUANIA]),
    (C1940, [FINLAND, NORWAY, JUTLAND, IRELAND, BELGIUM, NETHERLANDS, LUXEMBOURG, SWITZERLAND, AUSTRIA, SLOVENIA, ITALY]),
    (C1900, [SWEDEN, PORTUGAL]),
    (C1960, [BRITAIN, NI, FRANCE, SPAIN, BOSNIA, GREECE]),
    (C1980, [GERMANY, POLAND, CZECHIA, SLOVAKIA, HUNGARY, ROMANIA, BULGARIA, CROATIA, MONTENEGRO, KOSOVO, MACEDONIA, THRACE, ANATOLIA]),
    (C1990, [SERBIA, ALBANIA]),
    (C2000, [BELARUS]),
    (CNONE, [MOLDOVA]),
]
ISLANDS = [
    (C1990, [SAAREMAA, HIIUMAA]),
    (C1940, [ALAND, FUNEN, ZEALAND, LOLLAND, BORNHOLM, ZEELAND, SARDINIA, SICILY, MALTA_A, MALTA_B]),
    (C1900, [GOTLAND, OLAND]),
    (C1960, [CORSICA, MALLORCA, MENORCA, IBIZA, LEWIS, UIST, SKYE, MULL, ISLAY, MAN, ORKNEY, SHETLAND, FAROE, PELOPONNESE, EUBOEA, CRETE, LESBOS, CHIOS, SAMOS, RHODES, KARPATHOS, NAXOS, CORFU, KEFALONIA, ZAKYNTHOS, THASOS, SAMOTHRACE, IMBROS, LEMNOS, CYPRUS]),
    (C1980, [RUGEN, USEDOM, KRK, RAB, PAG, BRAC, KORCULA, GALLIPOLI]),
    (C1899, [ICELAND]),
]

LEGEND_LABELS = ["2000 –", "1990–1999", "1980–1989", "1960–1979", "1940–1959", "1900–1939", "–1899"]
LEGEND_COLOURS = [C2000, C1990, C1980, C1960, C1940, C1900, C1899]

# year label, position on the picture, colour
LABELS = [
    ("1830",157,487,"w"),("1944",802,595,"w"),("1948",539,680,"w"),("1910",641,763,"w"),("1999",1105,683,"w"),
    ("1991",841,711,"w"),("1996",858,770,"w"),("1995",839,830,"w"),("2019",933,871,"w"),("1950",551,830,"w"),
    ("1954",212,911,"w"),("1964",334,954,"w"),("1952",487,969,"w"),("1988",767,954,"w"),("1981",581,986,"w"),
    ("1997",1048,979,"w"),("1950",460,1020,"w"),("1949",510,1050,"w"),("1989",690,1041,"w"),("1989",780,1063,"w"),
    ("1950",685,1116,"w"),("1988",793,1121,"w"),("1989",926,1134,"w"),("1785",587,1137,"w"),("1944",524,1147,"w"),
    ("1977",404,1147,"w"),("1959",689,1166,"w"),("1987",733,1174,"w"),("1947",583,1202,"w"),("1977",768,1217,"w"),
    ("1992",843,1209,"w"),("1989",959,1235,"w"),("1667",616,1237,"w"),("1929",487,1245,"w"),("1943",378,1269,"w"),
    ("1984",853,1263,"w"),("1981",810,1258,"w"),("1988",879,1290,"w"),("1870",662,1308,"w"),("1984",1122,1333,"w"),
    ("1975",232,1350,"w"),("1917",104,1350,"w"),("1992",845,1326,"w"),("1972",894,1357,"w"),
    ("1962",1248,1441,C1960),("1943",734,1504,C1940),
]
# microstates: colour of the year, position
DOTS = [(Z1, 583, 888, C1899), (Z1, 833, 1322, C1899), (Z1, 368, 1402, C1900), (Z8, 1226, 517, C1940), (Z11, 762, 415, C1899)]


class Condense(AbstractPathEffect):
    """Narrows a text about its anchor: the reference uses a condensed face."""
    def __init__(self, sx, x, y, rot=0):
        super().__init__()
        self.t = (Affine2D().translate(-x, -(H - y)).rotate_deg(-rot).scale(sx, 1)
                  .rotate_deg(rot).translate(x, H - y))
    def draw_path(self, renderer, gc, tpath, affine, rgbFace=None):
        renderer.draw_path(gc, tpath, affine + self.t, rgbFace)


fig = plt.figure(figsize=(W / 100, H / 100), dpi=100, facecolor="white")
ax = fig.add_axes([0, 0, 1, 1])
ax.set_xlim(0, W)
ax.set_ylim(H, 0)
ax.axis("off")

for colour, shapes in COUNTRIES:
    for s in shapes:
        xs, ys = zip(*s)
        ax.fill(xs, ys, facecolor=colour, edgecolor="white", linewidth=3.2, joinstyle="round", zorder=2)
for colour, shapes in ISLANDS:
    for s in shapes:
        xs, ys = zip(*s)
        ax.fill(xs, ys, facecolor=colour, edgecolor="none", zorder=2)

for z, px, py, colour in DOTS:
    (x, y), = z([(px, py)])
    ax.scatter([x], [y], s=400, facecolor=colour, edgecolor="white", linewidth=4, zorder=4)

def narrow_extent(t, sx, x, cap=None, base=None):
    """Report the box the narrowed text really takes."""
    full = t.get_window_extent
    def extent(renderer=None, dpi=None):
        b = full(renderer, dpi)
        y0, y1 = (b.y0, b.y1) if cap is None else (H - base, H - base + cap)
        return Bbox.from_extents(x + (b.x0 - x) * sx, y0, x + (b.x1 - x) * sx, y1)
    t.get_window_extent = extent

def put(s, x, y, size, colour, sx, ha="center", va="center", rot=0, weight="bold"):
    t = ax.text(x, y, s, fontsize=size, color=colour, family=FONT, weight=weight, ha=ha, va=va,
                rotation=rot, rotation_mode="anchor", zorder=5)
    t.set_path_effects([Condense(sx, x, y, rot)])
    return t

for s, px, py, c in LABELS:
    (x, y), = D([(px, py)])
    t = put(s, x, y, 26, "white" if c == "w" else c, 0.74, va="center_baseline")
    narrow_extent(t, 0.74, x)
(x, y), = D([(1004, 1070)])
put("NO DATA", x, y, 24, "white", 0.74, va="center_baseline", rot=-50)

LEG_X, LEG_W, LEG_Y, LEG_H = 749, 99, 698, 60.5
for i, (lab, col) in enumerate(zip(LEGEND_LABELS, LEGEND_COLOURS)):
    ax.bar(LEG_X, LEG_H, width=LEG_W, bottom=LEG_Y + i * LEG_H, align="edge", color=col, linewidth=0, zorder=3)
    base = 750 + i * 61.7
    t = put(lab, 857, base, 52.7, GREY, 0.69, ha="left", va="baseline", weight="medium")
    narrow_extent(t, 0.69, 857, cap=52, base=base)

renderer = fig.canvas.get_renderer()
def fitted(s, x, base, size, target):
    t = ax.text(x, base, s, fontsize=size, color=GREY, family=FONT, weight="medium", ha="center", va="baseline", zorder=5)
    sx = target / t.get_window_extent(renderer).width
    t.set_path_effects([Condense(sx, x, base)])
    narrow_extent(t, sx, x)
fitted("CAPITAL PUNISHMENT IN EUROPE", 1497, 341, 176, 2455)
fitted("– YEAR OF LAST USE –", 1497, 524, 127, 1125)

fig.savefig("out.png", dpi=100, facecolor="white")
